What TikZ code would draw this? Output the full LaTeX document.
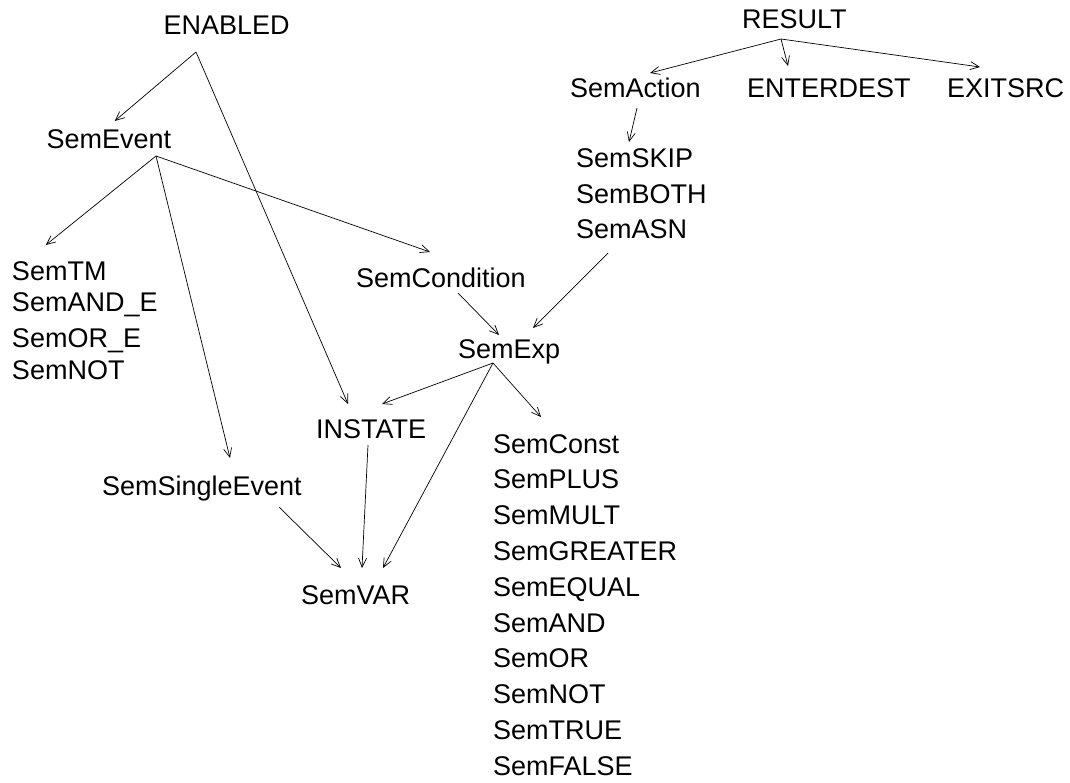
\documentclass[tikz,border=0pt]{standalone}
\usepackage{fontspec}
\setmainfont{Liberation Sans}
\usetikzlibrary{arrows.meta}
\tikzset{
  lbl/.style={anchor=base west, inner sep=0pt, outer sep=0pt, font=\fontsize{27}{32}\selectfont},
  arr/.style={line width=0.7pt, -{Straight Barb[length=9pt,width=8pt,line width=0.7pt]}}
}
\begin{document}
\begin{tikzpicture}[x=1pt,y=-1pt]
\useasboundingbox (0,0) rectangle (1070,782);
% nodes
\node[lbl] (enabled) at (163.6,34.3) {ENABLED};
\node[lbl] (semevent) at (46.5,148) {SemEvent};
\node[lbl] (semtm) at (12,280) {SemTM};
\node[lbl] (semande) at (12,311) {SemAND\_E};
\node[lbl] (semore) at (12,347) {SemOR\_E};
\node[lbl] (semnote) at (12,379) {SemNOT};
\node[lbl] (semcond) at (356,287) {SemCondition};
\node[lbl] (semexp) at (458,358) {SemExp};
\node[lbl] (instate) at (316,438) {INSTATE};
\node[lbl] (semsingle) at (102,495) {SemSingleEvent};
\node[lbl] (semvar) at (301,604) {SemVAR};
\node[lbl] (semconst) at (493,453) {SemConst};
\node[lbl] (semplus) at (493,488.5) {SemPLUS};
\node[lbl] (semmult) at (493,524) {SemMULT};
\node[lbl] (semgreater) at (493,560) {SemGREATER};
\node[lbl] (semequal) at (493,596) {SemEQUAL};
\node[lbl] (semand) at (493,632) {SemAND};
\node[lbl] (semor) at (493,667.5) {SemOR};
\node[lbl] (semnot) at (493,703) {SemNOT};
\node[lbl] (semtrue) at (493,739) {SemTRUE};
\node[lbl] (semfalse) at (493,775) {SemFALSE};
\node[lbl] (result) at (742,28) {RESULT};
\node[lbl] (semaction) at (570,97) {SemAction};
\node[lbl] (enterdest) at (747,97) {ENTERDEST};
\node[lbl] (exitsrc) at (947,97) {EXITSRC};
\node[lbl] (semskip) at (576,167) {SemSKIP};
\node[lbl] (semboth) at (576,203) {SemBOTH};
\node[lbl] (semasn) at (576,238) {SemASN};
% connector points
\coordinate (enabledOut) at (196,52);
\coordinate (semeventIn) at (114.7,121);
\coordinate (instateInA) at (348,404);
\coordinate (semeventOut) at (156,156);
\coordinate (semtmIn) at (45.8,245);
\coordinate (semsingleIn) at (230,458);
\coordinate (semcondIn) at (430,252);
\coordinate (semcondOut) at (458,293);
\coordinate (semexpInA) at (499,335);
\coordinate (semasnOut) at (608,253);
\coordinate (semexpInB) at (533,328);
\coordinate (semexpOut) at (493,363);
\coordinate (instateInB) at (382,404);
\coordinate (semvarInC) at (383,568);
\coordinate (semconstIn) at (541,417);
\coordinate (instateOut) at (368,445);
\coordinate (semvarInB) at (362,568);
\coordinate (semsingleOut) at (279,507);
\coordinate (semvarInA) at (341,568);
\coordinate (resultOut) at (781,39);
\coordinate (semactionIn) at (650,73);
\coordinate (enterdestIn) at (788,66);
\coordinate (exitsrcIn) at (980,67);
\coordinate (semactionOut) at (637,108);
\coordinate (semskipIn) at (629,142);
% connectors
\draw[arr] (enabledOut) -- (semeventIn);
\draw[arr] (enabledOut) -- (instateInA);
\draw[arr] (semeventOut) -- (semtmIn);
\draw[arr] (semeventOut) -- (semsingleIn);
\draw[arr] (semeventOut) -- (semcondIn);
\draw[arr] (semcondOut) -- (semexpInA);
\draw[arr] (semasnOut) -- (semexpInB);
\draw[arr] (semexpOut) -- (instateInB);
\draw[arr] (semexpOut) -- (semvarInC);
\draw[arr] (semexpOut) -- (semconstIn);
\draw[arr] (instateOut) -- (semvarInB);
\draw[arr] (semsingleOut) -- (semvarInA);
\draw[arr] (resultOut) -- (semactionIn);
\draw[arr] (resultOut) -- (enterdestIn);
\draw[arr] (resultOut) -- (exitsrcIn);
\draw[arr] (semactionOut) -- (semskipIn);
\end{tikzpicture}
\end{document}
